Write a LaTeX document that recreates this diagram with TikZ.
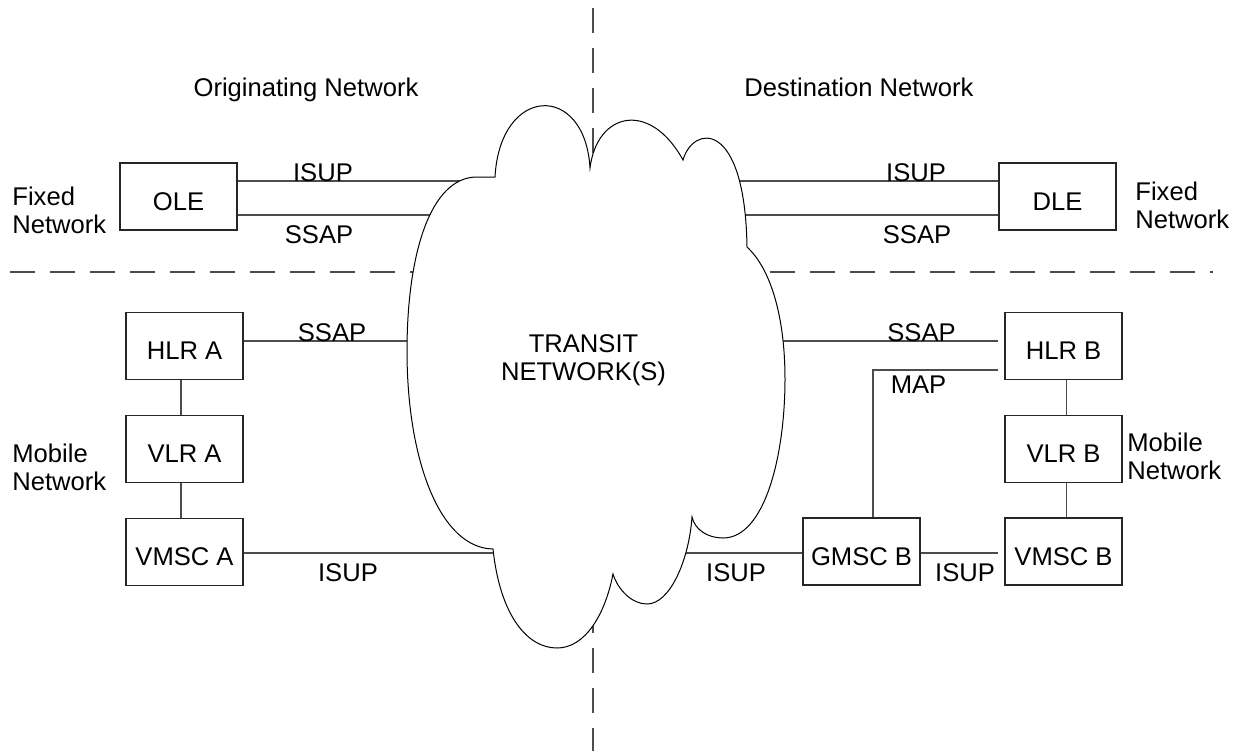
\documentclass[tikz,border=0pt]{standalone}
\usepackage{fontspec}
\setmainfont{Liberation Sans}

\begin{document}
\begin{tikzpicture}[x=0.5pt,y=-0.5pt]
        \tikzstyle{every node} = [rectangle, inner sep=0pt, font=\fontsize{12.8}{14}\selectfont]
        \tikzstyle{box} = [draw=black!85, line width=0.6pt, minimum width=58.5pt, minimum height=33.5pt, text height=13.7pt, text depth=0pt]
        \tikzstyle{link} = [draw=black!70, line width=0.75pt]
        \tikzstyle{divider} = [draw=black!70, line width=1pt, dash pattern=on 12.5pt off 7.5pt]
        \useasboundingbox (0,0) rectangle (1237,751);
        \draw[divider] (593,8) -- (593,751);
        \draw[divider] (10,272) -- (1213,272);
        \node[box] (ole) at (178.5,196.5) {OLE};
        \node[box] (dle) at (1057.5,196.5) {DLE};
        \node[box] (hlra) at (184.5,346) {HLR A};
        \node[box] (vlra) at (184.5,449) {VLR A};
        \node[box] (vmsca) at (184.5,552) {VMSC A};
        \node[box] (hlrb) at (1063.5,346) {HLR B};
        \node[box] (vlrb) at (1063.5,449) {VLR B};
        \node[box] (vmscb) at (1063.5,551.5) {VMSC B};
        \node[box] (gmscb) at (861.5,551.5) {GMSC B};
        \coordinate (isupT) at (590,181);
        \coordinate (ssapT) at (590,215);
        \coordinate (ssapM) at (590,341);
        \coordinate (isupB) at (590,553);
        \coordinate (mapK) at (873,370);
        \foreach \from/\to in {ole.east/isupT, ole.east/ssapT, dle.west/isupT, dle.west/ssapT, hlra.east/ssapM, vmsca.east/isupB, gmscb.west/isupB}
            \draw[link] (\from |- \to) -- (\to);
        \draw[link, shorten <=3pt] (hlrb.west |- ssapM) -- (ssapM);
        \draw[link, shorten <=3pt] (hlrb.west |- mapK) -- (mapK) -- (mapK |- gmscb.north);
        \draw[link, shorten >=3pt] (gmscb.east |- isupB) -- (vmscb.west |- isupB);
        \foreach \from/\to in {hlra/vlra, vlra/vmsca}
            \draw[link] ([xshift=-1.75pt]\from.south) -- ([xshift=-1.75pt]\to.north);
        \foreach \from/\to in {hlrb/vlrb, vlrb/vmscb}
            \draw[link] ([xshift=1.6pt]\from.south) -- ([xshift=1.6pt]\to.north);
        % transit cloud
        \draw[fill=white, line width=0.5pt] (495,177)
            .. controls (500,85) and (585,82) .. (590,168)
            .. controls (597,112) and (650,100) .. (683,160)
            .. controls (693,125) and (745,118) .. (747,247)
            .. controls (772,270) and (785,320) .. (785,379)
            .. controls (785,455) and (765,538) .. (723,538)
            .. controls (708,538) and (695,530) .. (692,517)
            .. controls (689,560) and (670,604) .. (647,604)
            .. controls (632,604) and (618,590) .. (613,574)
            .. controls (605,615) and (585,648) .. (557,648)
            .. controls (527,648) and (500,615) .. (493,549)
            .. controls (440,548) and (407,460) .. (407,351)
            .. controls (407,255) and (430,177) .. (477,177)
            -- cycle;
        \node[align=center] (transit) at (583.5,360) {TRANSIT\\NETWORK(S)};
        \node[anchor=base] (orig) at (306,96) {Originating Network};
        \node[anchor=base] (dest) at (859,96) {Destination Network};
        \node[anchor=west, align=left] (fixa) at (12,210) {Fixed\\Network};
        \node[anchor=west, align=left] (fixb) at (1135,205.5) {Fixed\\Network};
        \node[anchor=west, align=left] (moba) at (12,467) {Mobile\\Network};
        \node[anchor=west, align=left] (mobb) at (1127,456) {Mobile\\Network};
        \node[anchor=base] (isup1) at (323,181) {ISUP};
        \node[anchor=base] (ssap1) at (319,243) {SSAP};
        \node[anchor=base] (isup2) at (916,181) {ISUP};
        \node[anchor=base] (ssap2) at (917,243) {SSAP};
        \node[anchor=base] (ssap3) at (332,341) {SSAP};
        \node[anchor=base] (isup3) at (348,581) {ISUP};
        \node[anchor=base] (ssap4) at (921.5,341) {SSAP};
        \node[anchor=base] (map) at (918.5,393) {MAP};
        \node[anchor=base] (isup4) at (736,581) {ISUP};
        \node[anchor=base] (isup5) at (965,581) {ISUP};
    \end{tikzpicture}
\end{document}
